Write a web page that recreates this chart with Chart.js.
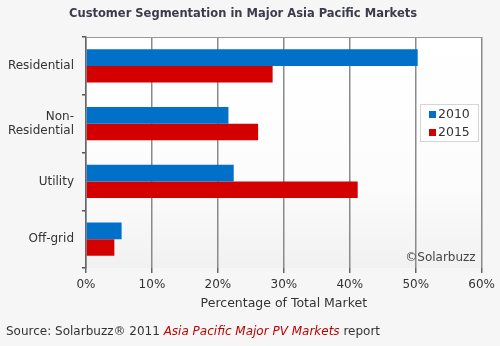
<!DOCTYPE html>
<html>
<head>
<meta charset="utf-8">
<script src="https://cdn.jsdelivr.net/npm/chart.js@4/dist/chart.umd.min.js"></script>
<style>
  html, body { margin: 0; padding: 0; }
  body { width: 500px; height: 346px; background: #f6f6f6; position: relative; overflow: hidden;
         font-family: "DejaVu Sans", Verdana, sans-serif; }
  #wrap { position: absolute; left: 0; top: 0; width: 500px; height: 346px; }
  .title { position: absolute; left: 69px; top: 6px; font-size: 11.5px; font-weight: bold; color: #3b3b4b; }
  .source { position: absolute; left: 6px; top: 324px; font-size: 12px; color: #333; }
  .source i { color: #c00000; }
</style>
</head>
<body>
<div id="wrap"><canvas id="chart" width="500" height="346"></canvas></div>
<div class="title">Customer Segmentation in Major Asia Pacific Markets</div>
<div class="source">Source: Solarbuzz® 2011 <i>Asia Pacific Major PV Markets</i> report</div>
<script>
const SEGMENTS = ['Residential', ['Non-', 'Residential'], 'Utility', 'Off-grid'];
const YEARS = ['2010', '2015'];
const SHARE_2010 = [50.3, 21.6, 22.4, 5.4];
const SHARE_2015 = [28.3, 26.1, 41.2, 4.3];
const X_TICKS = [0, 10, 20, 30, 40, 50, 60];

const COLORS = ['#0070c8', '#d40000'];
const FONT = '"DejaVu Sans", Verdana, sans-serif';

// plot backdrop, top border, copyright note and the boxed legend
const decorations = {
  id: 'decorations',
  beforeDraw(chart) {
    let { ctx, chartArea: a } = chart;
    let g = ctx.createLinearGradient(0, a.top, 0, a.bottom);
    g.addColorStop(0, '#ffffff');
    g.addColorStop(0.65, '#fcfcfc');
    g.addColorStop(1, '#f1f1f1');
    ctx.save();
    ctx.fillStyle = g;
    ctx.fillRect(a.left, a.top, a.right - a.left, a.bottom - a.top);
    ctx.restore();
  },
  afterDraw(chart) {
    let { ctx, chartArea: a } = chart;
    ctx.save();
    ctx.strokeStyle = '#999';
    ctx.lineWidth = 1;
    ctx.beginPath();
    ctx.moveTo(a.left, a.top + 0.5);
    ctx.lineTo(a.right, a.top + 0.5);
    ctx.stroke();

    ctx.fillStyle = '#444';
    ctx.font = '12px ' + FONT;
    ctx.textAlign = 'right';
    ctx.textBaseline = 'middle';
    ctx.fillText('©Solarbuzz', a.right - 6, a.bottom - 10);

    // legend
    let x = 420, y = 104, w = 58, h = 37;
    ctx.fillStyle = '#ffffff';
    ctx.fillRect(x, y, w, h);
    ctx.strokeStyle = '#aaa';
    ctx.setLineDash([1, 1]);
    ctx.strokeRect(x + 0.5, y + 0.5, w, h);
    ctx.setLineDash([]);
    ctx.font = '12.5px ' + FONT;
    ctx.textAlign = 'left';
    chart.data.datasets.forEach((ds, i) => {
      let cy = y + 10 + i * 18;
      ctx.fillStyle = ds.backgroundColor;
      ctx.fillRect(x + 9, cy - 3, 7, 7);
      ctx.fillStyle = '#333';
      ctx.fillText(ds.label, x + 18, cy + 1);
    });
    ctx.restore();
  },
};

new Chart(document.getElementById('chart'), {
  type: 'bar',
  data: {
    labels: SEGMENTS,
    datasets: [
      { label: YEARS[0], data: SHARE_2010, backgroundColor: COLORS[0] },
      { label: YEARS[1], data: SHARE_2015, backgroundColor: COLORS[1] },
    ],
  },
  options: {
    indexAxis: 'y',
    responsive: false,
    animation: false,
    devicePixelRatio: 1,
    layout: { padding: { left: 0, top: 37, right: 18, bottom: 31 } },
    datasets: { bar: { categoryPercentage: 0.58, barPercentage: 1 } },
    plugins: { legend: { display: false }, tooltip: { enabled: false } },
    scales: {
      x: {
        min: 0,
        max: 60,
        afterBuildTicks: scale => { scale.ticks = X_TICKS.map(value => ({ value })); },
        afterFit: scale => { scale.height = 47; },
        grid: { color: '#8a8a8a', lineWidth: 1.5, tickLength: 5, tickColor: '#666' },
        border: { display: false },
        ticks: { color: '#333', font: { family: FONT, size: 12 }, padding: 5, callback: v => v + '%' },
        title: { display: true, text: 'Percentage of Total Market', color: '#333', font: { family: FONT, size: 12.5 } },
      },
      y: {
        afterFit: scale => { scale.width = 86; },
        grid: { drawOnChartArea: false, tickLength: 4, tickColor: '#555', lineWidth: 1.5 },
        border: { color: '#666', width: 1.5 },
        ticks: { color: '#333', font: { family: FONT, size: 12 }, padding: 8 },
      },
    },
  },
  plugins: [decorations],
});
</script>
</body>
</html>
